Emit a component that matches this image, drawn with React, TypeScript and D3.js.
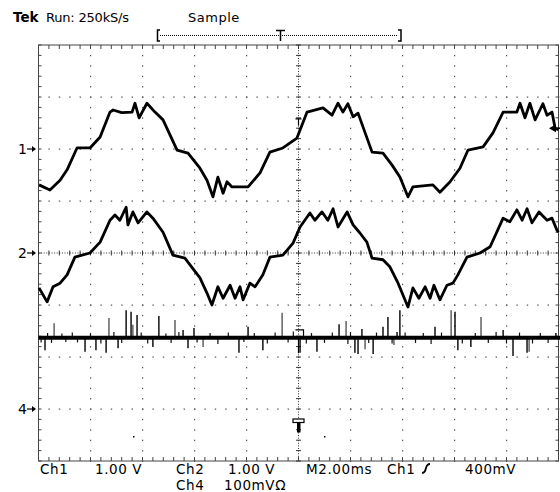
import React from "react";
import * as d3 from "d3";

// time in ms from left edge of screen, values in volts (ch1, ch2) and mV (ch4)
const ch1Trace: [number, number][] = [
  [0.02, -0.69], [0.44, -0.79], [0.83, -0.6], [1.1, -0.4], [1.48, 0.02], [1.98, 0.02],
  [2.37, 0.23], [2.75, 0.71], [2.87, 0.75], [3.2, 0.7], [3.6, 0.71], [3.71, 0.88],
  [3.87, 0.6], [4.17, 0.88], [4.48, 0.71], [4.79, 0.56], [5.33, -0.02], [5.75, -0.08],
  [6.21, -0.37], [6.48, -0.6], [6.71, -0.92], [6.9, -0.54], [7.1, -0.85], [7.25, -0.63],
  [7.44, -0.73], [8.06, -0.73], [8.52, -0.46], [8.9, -0.06], [9.4, 0.02], [9.94, 0.21],
  [10.33, 0.71], [10.94, 0.79], [11.29, 0.65], [11.52, 0.88], [11.71, 0.71], [11.9, 0.87],
  [12.1, 0.62], [12.29, 0.69], [12.83, -0.06], [13.25, -0.08], [13.6, -0.31], [13.9, -0.54],
  [14.21, -0.92], [14.4, -0.73], [15.17, -0.69], [15.44, -0.83], [15.83, -0.63], [16.21, -0.37],
  [16.52, -0.02], [17.1, 0.04], [17.48, 0.31], [17.87, 0.71], [18.4, 0.71], [18.52, 0.88],
  [18.71, 0.6], [18.9, 0.88], [19.1, 0.56], [19.4, 0.87], [19.56, 0.65], [19.75, 0.71],
  [19.87, 0.4], [20, 0.37],
];

const ch2Trace: [number, number][] = [
  [0.02, -0.67], [0.33, -0.94], [0.56, -0.65], [0.83, -0.58], [1.1, -0.42], [1.4, -0.08],
  [1.98, 0.0], [2.37, 0.21], [2.75, 0.63], [2.94, 0.73], [3.13, 0.63], [3.37, 0.88],
  [3.44, 0.54], [3.63, 0.79], [3.83, 0.58], [4.17, 0.79], [4.4, 0.67], [4.79, 0.4],
  [5.17, -0.04], [5.63, -0.1], [6.21, -0.48], [6.48, -0.77], [6.67, -1.0], [6.9, -0.65],
  [7.1, -0.87], [7.37, -0.62], [7.56, -0.87], [7.75, -0.65], [7.87, -0.9], [8.13, -0.58],
  [8.33, -0.65], [8.63, -0.42], [8.9, -0.08], [9.4, -0.04], [9.79, 0.19], [10.06, 0.5],
  [10.44, 0.77], [10.63, 0.63], [10.9, 0.79], [11.13, 0.63], [11.33, 0.85], [11.52, 0.5],
  [11.87, 0.79], [12.1, 0.54], [12.37, 0.38], [12.63, 0.21], [12.83, -0.1], [13.25, -0.13],
  [13.52, -0.27], [13.83, -0.58], [14.21, -1.04], [14.4, -0.67], [14.63, -0.87], [14.87, -0.65],
  [15.06, -0.87], [15.21, -0.62], [15.44, -0.9], [15.71, -0.62], [15.94, -0.58], [16.13, -0.42],
  [16.48, -0.08], [16.98, 0.0], [17.37, 0.12], [17.87, 0.67], [18.13, 0.6], [18.4, 0.83],
  [18.6, 0.63], [18.79, 0.85], [18.98, 0.58], [19.25, 0.79], [19.56, 0.63], [19.75, 0.67],
  [19.94, 0.44], [20, 0.4],
];

const ch4Base = 137;
const ch4Spikes: [number, number][] = [
  [0.25, 113], [0.6, 165], [1.79, 110], [2.21, 113], [2.6, 108], [2.71, 175], [3.06, 117],
  [3.37, 190], [3.56, 187], [3.63, 162], [3.79, 181], [4.4, 119], [4.63, 179], [5.25, 171],
  [5.56, 152], [5.75, 117], [5.98, 156], [6.33, 119], [7.71, 108], [8.06, 158], [8.63, 113],
  [9.37, 185], [10.06, 108], [10.71, 110], [11.56, 163], [11.83, 169], [12.17, 108],
  [12.29, 106], [12.44, 154], [12.56, 115], [12.87, 106], [13.25, 158], [13.44, 177],
  [13.67, 123], [13.79, 148], [13.9, 190], [15.25, 158], [15.87, 190], [16.02, 187],
  [16.13, 113], [16.63, 119], [17.02, 177], [17.87, 152], [18.25, 102], [18.79, 108],
  [18.87, 110], [19.9, 146],
];
const ch4Noise: [number, number][] = [
  [0.1, 128], [0.35, 146], [0.5, 127], [0.9, 145], [1.05, 129], [1.3, 147], [1.5, 128],
  [2.0, 146], [2.4, 126], [2.9, 148], [3.2, 127], [3.95, 147], [4.2, 126], [4.9, 145],
  [5.1, 127], [5.4, 148], [6.1, 128], [6.6, 146], [6.9, 125], [7.3, 147], [7.9, 129],
  [8.3, 146], [8.8, 126], [9.1, 147], [9.6, 128], [9.8, 149], [10.3, 126], [10.5, 146],
  [11.0, 127], [11.3, 147], [11.9, 125], [12.0, 148], [12.7, 127], [13.0, 147], [13.6, 126],
  [14.1, 147], [14.5, 127], [14.8, 146], [15.1, 125], [15.5, 147], [16.3, 126], [16.8, 146],
  [17.3, 127], [17.6, 148], [18.0, 126], [18.5, 147], [19.0, 126], [19.3, 146], [19.6, 127],
];

const trigLevel = 0.4; // V on ch1
const statusLine1 = [
  { x: 40, t: "Ch1" }, { x: 95, t: "1.00 V" }, { x: 176, t: "Ch2" }, { x: 228, t: "1.00 V" },
  { x: 306, t: "M2.00ms" }, { x: 387, t: "Ch1" }, { x: 465, t: "400mV" },
];
const statusLine2 = [{ x: 176, t: "Ch4" }, { x: 224, t: "100mVΩ" }];

const W = 560;
const H = 492;
const left = 38.5, right = 558.5, top = 45, bottom = 461;

export default function App() {
  const x = d3.scaleLinear().domain([0, 20]).range([left, right]);
  const xDiv = d3.scaleLinear().domain([0, 10]).range([left, right]);
  const yDiv = d3.scaleLinear().domain([-4, 4]).range([bottom, top]);
  const y1 = (v: number) => yDiv(2 + v);
  const y2 = (v: number) => yDiv(v);
  const y4 = (mv: number) => yDiv(-3 + mv / 100);

  const minorX = d3.range(0, 10.001, 0.2);
  const minorY = d3.range(-4, 4.001, 0.2);

  const line1 = d3.line<[number, number]>().x((d) => x(d[0])).y((d) => y1(d[1]));
  const line2 = d3.line<[number, number]>().x((d) => x(d[0])).y((d) => y2(d[1]));

  const dotColor = "#555";
  const dots: JSX.Element[] = [];
  for (let k = 1; k < 10; k++) {
    if (k === 5) continue;
    minorY.forEach((m, i) =>
      dots.push(<rect key={`v${k}-${i}`} x={xDiv(k) - 0.5} y={yDiv(m) - 0.5} width={1.2} height={1.4} fill={dotColor} />)
    );
  }
  for (let j = -3; j < 4; j++) {
    if (j === 0) continue;
    minorX.forEach((m, i) =>
      dots.push(<rect key={`h${j}-${i}`} x={xDiv(m) - 0.5} y={yDiv(j) - 0.5} width={1.4} height={1.2} fill={dotColor} />)
    );
  }

  const cx = xDiv(5);
  const cy = yDiv(0);
  const font = "'DejaVu Sans', sans-serif";

  const markers = [
    { label: "1", y: y1(0) },
    { label: "2", y: y2(0) },
    { label: "4", y: y4(0) },
  ];

  return (
    <svg width={W} height={H} style={{ position: "absolute", left: 0, top: 0, background: "#fff" }}>
      {/* header */}
      <text x={13} y={22} fontFamily={font} fontSize={13.5} fontWeight="bold">Tek</text>
      <text x={46} y={22} fontFamily={font} fontSize={13} letterSpacing={-0.2}>Run: 250kS/s</text>
      <text x={188} y={22} fontFamily={font} fontSize={13} letterSpacing={0.5}>Sample</text>

      {/* record bracket */}
      <g stroke="#000" fill="none">
        <path d="M160,30 H157.5 V41 H160" strokeWidth={1.5} />
        <path d="M398,30 H401 V41 H398" strokeWidth={1.5} />
        <line x1={160} x2={398} y1={35.5} y2={35.5} strokeDasharray="1,1" strokeWidth={1} />
        <path d="M276,30.5 H285 M280.5,30.5 V41" strokeWidth={1.5} />
      </g>

      {/* graticule */}
      <rect x={left} y={top} width={right - left} height={bottom - top} fill="none" stroke="#444" strokeWidth={1} />
      {minorX.map((m, i) => (
        <g key={`tb${i}`} stroke="#444" strokeWidth={1}>
          <line x1={xDiv(m)} x2={xDiv(m)} y1={top} y2={top + 4} />
          <line x1={xDiv(m)} x2={xDiv(m)} y1={bottom} y2={bottom - 4} />
        </g>
      ))}
      {minorY.map((m, i) => (
        <g key={`lr${i}`} stroke="#444" strokeWidth={1}>
          <line x1={left} x2={left + 3} y1={yDiv(m)} y2={yDiv(m)} />
          <line x1={right} x2={right - 3} y1={yDiv(m)} y2={yDiv(m)} />
        </g>
      ))}
      {dots}
      <line x1={left} x2={right} y1={cy} y2={cy} stroke="#333" strokeDasharray="1,1.6" />
      <line x1={cx} x2={cx} y1={top} y2={bottom} stroke="#333" strokeDasharray="1,1.6" />
      {minorX.map((m, i) => (
        <line key={`ch${i}`} x1={xDiv(m)} x2={xDiv(m)} y1={cy - 2.5} y2={cy + 2.5} stroke="#333" />
      ))}
      {minorY.map((m, i) => (
        <line key={`cv${i}`} x1={cx - 2.5} x2={cx + 2.5} y1={yDiv(m)} y2={yDiv(m)} stroke="#333" />
      ))}

      {/* ch4: baseline, small noise and spikes */}
      {ch4Noise.map((d, i) => (
        <line key={`n${i}`} x1={x(d[0])} x2={x(d[0])} y1={y4(ch4Base)} y2={y4(d[1])} stroke="#111" strokeWidth={1.2} />
      ))}
      {ch4Spikes.map((d, i) => (
        <line key={`s${i}`} x1={x(d[0])} x2={x(d[0])} y1={y4(ch4Base)} y2={y4(d[1])}
          stroke={i % 4 === 1 ? "#555" : "#000"} strokeWidth={1.4} />
      ))}
      <line x1={left} x2={W} y1={y4(ch4Base)} y2={y4(ch4Base)} stroke="#000" strokeWidth={4} />

      {/* ch1, ch2 */}
      <path d={line1(ch1Trace) ?? ""} fill="none" stroke="#000" strokeWidth={2.8} strokeLinejoin="round" />
      <path d={line2(ch2Trace) ?? ""} fill="none" stroke="#000" strokeWidth={2.8} strokeLinejoin="round" />

      {/* trigger marks on traces */}
      <path d={`M${cx - 3},${y1(0.58)} H${cx + 3} M${cx},${y1(0.58)} V${y1(0.45)}`} stroke="#000" strokeWidth={1.2} />
      <path d={`M${cx - 3},${y4(ch4Base + 15)} H${cx + 5} V${y4(ch4Base)} M${cx},${y4(ch4Base)} V${y4(ch4Base - 30)}`} stroke="#000" strokeWidth={1.2} fill="none" />

      {/* trigger position T */}
      <g>
        <rect x={cx - 5.5} y={419} width={11} height={3.5} fill="#fff" stroke="#000" strokeWidth={1.2} />
        <rect x={cx - 1.5} y={422.5} width={3.5} height={10} fill="#000" />
      </g>
      <rect x={133} y={436} width={1.5} height={1.5} fill="#000" />
      <rect x={324} y={436} width={1.5} height={1.5} fill="#000" />

      {/* trigger level arrow */}
      <path d={`M549,${y1(trigLevel)} L556,${y1(trigLevel) - 4} L556,${y1(trigLevel) + 4} Z`} fill="#000" />
      <line x1={553} x2={560} y1={y1(trigLevel)} y2={y1(trigLevel)} stroke="#000" strokeWidth={1.5} />

      {/* channel ground markers */}
      {markers.map((m) => (
        <g key={m.label}>
          <text x={18} y={m.y + 5} fontFamily={font} fontSize={14}>{m.label}</text>
          <line x1={27} x2={34} y1={m.y} y2={m.y} stroke="#000" strokeWidth={1.2} />
          <path d={`M36,${m.y} L32,${m.y - 3} L32,${m.y + 3} Z`} fill="#000" />
        </g>
      ))}

      {/* status lines */}
      {statusLine1.map((s, i) => (
        <text key={`a${i}`} x={s.x} y={474} fontFamily={font} fontSize={13.5} letterSpacing={0.6}>{s.t}</text>
      ))}
      <path d="M422,473 Q425,473 426,468 Q427,464 430,464" fill="none" stroke="#000" strokeWidth={1.8} />
      {statusLine2.map((s, i) => (
        <text key={`b${i}`} x={s.x} y={490} fontFamily={font} fontSize={13.5} letterSpacing={0.6}>{s.t}</text>
      ))}
    </svg>
  );
}
